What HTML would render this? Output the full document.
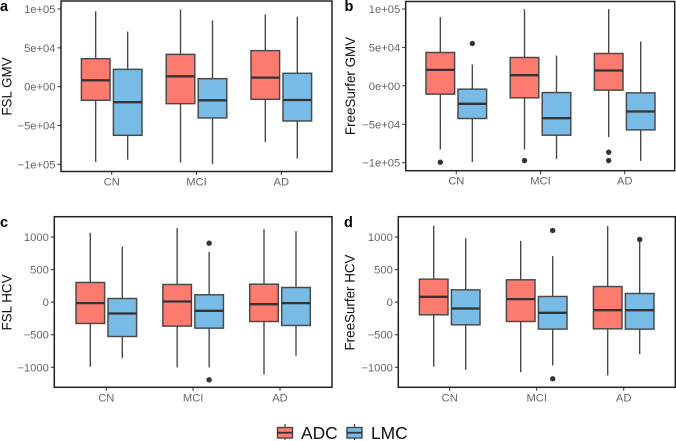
<!DOCTYPE html>
<html>
<head>
<meta charset="utf-8">
<style>
html,body{margin:0;padding:0;background:#fff;width:676px;height:441px;overflow:hidden}
svg{display:block;font-family:"Liberation Sans",sans-serif}
</style>
</head>
<body>
<svg id="chart" width="676" height="441" viewBox="0 0 676 441" xmlns="http://www.w3.org/2000/svg"></svg>
<script>
// Shared categories and series names
const categories = ['CN', 'MCI', 'AD'];
const seriesNames = ['ADC', 'LMC'];

// Tick labels
const gmvTicks = [100000, 50000, 0, -50000, -100000];
const gmvTickLabels = ['1e+05', '5e+04', '0e+00', '\u22125e+04', '\u22121e+05'];
const hcvTicks = [1000, 500, 0, -500, -1000];
const hcvTickLabels = ['1000', '500', '0', '\u2212500', '\u22121000'];

// Each row: [whisker high, q3, median, q1, whisker low], one row per category
const fslGmvAdc = [[97000, 36000, 8150, -17600, -97000], [99500, 41600, 13300, -21900, -97800], [93100, 46400, 11600, -16300, -71200]];
const fslGmvLmc = [[71000, 22300, -20000, -62700, -94000], [85400, 10300, -17600, -40300, -99600], [90100, 17200, -17200, -44200, -92700]];
const fslGmvAdcOutliers = [[], [], []];
const fslGmvLmcOutliers = [[], [], []];

const fsGmvAdc = [[89400, 43400, 20800, -10800, -82900], [99800, 36900, 13900, -15600, -82900], [99800, 42100, 20000, -5600, -66800]];
const fsGmvLmc = [[27800, -4300, -23400, -42500, -99300], [39500, -8700, -42100, -64200, -95400], [57700, -9100, -33400, -57300, -97600]];
const fsGmvAdcOutliers = [[-99300], [-97200], [-86300, -97200]];
const fsGmvLmcOutliers = [[55100], [], []];

const fslHcvAdc = [[1064, 302, -15, -327, -992], [1136, 271, 10, -368, -1003], [1120, 276, -31, -297, -1110]];
const fslHcvLmc = [[849, 56, -174, -527, -859], [772, 113, -133, -399, -1003], [1090, 225, -15, -358, -824]];
const fslHcvAdcOutliers = [[], [], []];
const fslHcvLmcOutliers = [[], [905, -1192], []];

const fsHcvAdc = [[1171, 353, 82, -194, -992], [941, 343, 46, -297, -1074], [1166, 240, -123, -409, -1125]];
const fsHcvLmc = [[982, 189, -97, -348, -1038], [706, 87, -164, -414, -972], [951, 133, -123, -414, -798]];
const fsHcvAdcOutliers = [[], [], []];
const fsHcvLmcOutliers = [[], [1100, -1176], [962]];

const NS = 'http://www.w3.org/2000/svg';
const svg = document.getElementById('chart');
const colors = ['#fc7b6e', '#78bbe6'];

function make(parent, tag, attrs, text) {
  const el = document.createElementNS(NS, tag);
  for (const k in attrs) el.setAttribute(k, attrs[k]);
  if (text !== undefined) el.textContent = text;
  parent.appendChild(el);
  return el;
}

function drawPanel(p) {
  const g = make(svg, 'g', {});
  
  

  const yScale = function (v) {
    const hi = p.ticks[0], lo = p.ticks[p.ticks.length - 1];
    return p.yHi + (hi - v) / (hi - lo) * (p.yLo - p.yHi);
  };
  const xScale = function (i) {
    return p.xFirst + i * (p.xLast - p.xFirst) / (categories.length - 1);
  };

  // letter tag
  const letter = make(g, 'text', {x: p.letterX, y: p.letterY, 'font-size': 14.5, 'font-weight': 'bold', fill: '#000'}, p.letter);
  
  

  // y axis title
  const title = make(g, 'text', {
    transform: 'translate(' + p.titleX + ',' + p.titleY + ') rotate(-90)',
    'text-anchor': 'middle', 'font-size': 13.4, fill: '#111'
  }, p.title);
  
  

  // y ticks
  p.ticks.forEach(function (t, i) {
    const y = yScale(t);
    const tick = make(g, 'line', {x1: p.left - 3.5, x2: p.left, y1: y, y2: y, stroke: '#444', 'stroke-width': 1.1});
    
    
    const lab = make(g, 'text', {x: p.left - 5.5, y: y + 4, 'text-anchor': 'end', 'font-size': 11.2, fill: '#666'}, p.tickLabels[i]);
    
    
  });

  // x ticks + labels
  categories.forEach(function (c, i) {
    const x = xScale(i);
    const tick = make(g, 'line', {x1: x, x2: x, y1: p.bottom, y2: p.bottom + 3.5, stroke: '#444', 'stroke-width': 1.1});
    
    
    const lab = make(g, 'text', {x: x, y: p.bottom + 14, 'text-anchor': 'middle', 'font-size': 11.2, fill: '#666'}, c);
    
    
  });

  // boxes
  const boxW = 28.6, dodge = 16;
  p.series.forEach(function (rows, s) {
    rows.forEach(function (r, i) {
      const x = xScale(i) + (s === 0 ? -dodge : dodge);
      const box = make(g, 'g', {});
      
      
      make(box, 'line', {x1: x, x2: x, y1: yScale(r[0]), y2: yScale(r[1]), stroke: '#444', 'stroke-width': 1.35});
      make(box, 'line', {x1: x, x2: x, y1: yScale(r[3]), y2: yScale(r[4]), stroke: '#444', 'stroke-width': 1.35});
      make(box, 'rect', {x: x - boxW / 2, y: yScale(r[1]), width: boxW, height: yScale(r[3]) - yScale(r[1]), fill: colors[s], stroke: '#484848', 'stroke-width': 1.45});
      make(box, 'line', {x1: x - boxW / 2, x2: x + boxW / 2, y1: yScale(r[2]), y2: yScale(r[2]), stroke: '#333', 'stroke-width': 2.3});
      p.outliers[s][i].forEach(function (o) {
        make(box, 'circle', {cx: x, cy: yScale(o), r: 2.7, fill: '#333'});
      });
    });
  });

  // frame
  const frame = make(g, 'rect', {x: p.left, y: p.top, width: p.right - p.left, height: p.bottom - p.top, fill: 'none', stroke: '#222', 'stroke-width': 1.5});
  
  
}

drawPanel({name: 'fsl-gmv', letter: 'a', letterX: 0, letterY: 11, title: 'FSL GMV', titleX: 11.5, titleY: 86.5,
  left: 61, right: 332, top: 1, bottom: 171.5, yHi: 9, yLo: 164.3, xFirst: 111.7, xLast: 281.3,
  ticks: gmvTicks, tickLabels: gmvTickLabels, series: [fslGmvAdc, fslGmvLmc], outliers: [fslGmvAdcOutliers, fslGmvLmcOutliers]});

drawPanel({name: 'freesurfer-gmv', letter: 'b', letterX: 344.5, letterY: 11, title: 'FreeSurfer GMV', titleX: 355, titleY: 86,
  left: 405.7, right: 674.7, top: 1.5, bottom: 170.7, yHi: 9, yLo: 162.7, xFirst: 456.3, xLast: 624.7,
  ticks: gmvTicks, tickLabels: gmvTickLabels, series: [fsGmvAdc, fsGmvLmc], outliers: [fsGmvAdcOutliers, fsGmvLmcOutliers]});

drawPanel({name: 'fsl-hcv', letter: 'c', letterX: 0, letterY: 227, title: 'FSL HCV', titleX: 11.5, titleY: 302.5,
  left: 54.3, right: 332, top: 216.7, bottom: 387.3, yHi: 237, yLo: 367.3, xFirst: 106.3, xLast: 280,
  ticks: hcvTicks, tickLabels: hcvTickLabels, series: [fslHcvAdc, fslHcvLmc], outliers: [fslHcvAdcOutliers, fslHcvLmcOutliers]});

drawPanel({name: 'freesurfer-hcv', letter: 'd', letterX: 344, letterY: 227, title: 'FreeSurfer HCV', titleX: 354.7, titleY: 302.5,
  left: 398.3, right: 675.3, top: 216.7, bottom: 387.3, yHi: 237, yLo: 367.3, xFirst: 449.7, xLast: 623.7,
  ticks: hcvTicks, tickLabels: hcvTickLabels, series: [fsHcvAdc, fsHcvLmc], outliers: [fsHcvAdcOutliers, fsHcvLmcOutliers]});

// Legend
const legend = make(svg, 'g', {});


const legendKeyX = [285, 354.5];
const legendTextX = [301, 371];
seriesNames.forEach(function (n, i) {
  const e = make(legend, 'g', {});
  
  
  const x = legendKeyX[i];
  make(e, 'line', {x1: x, x2: x, y1: 424, y2: 440, stroke: '#444', 'stroke-width': 1.2});
  make(e, 'rect', {x: x - 7.5, y: 427.5, width: 15, height: 10.5, fill: colors[i], stroke: '#484848', 'stroke-width': 1.4});
  make(e, 'line', {x1: x - 7.5, x2: x + 7.5, y1: 432.7, y2: 432.7, stroke: '#333', 'stroke-width': 1.8});
  make(e, 'text', {x: legendTextX[i], y: 439, 'font-size': 17.4, fill: '#111'}, n);
});
</script>
</body>
</html>
